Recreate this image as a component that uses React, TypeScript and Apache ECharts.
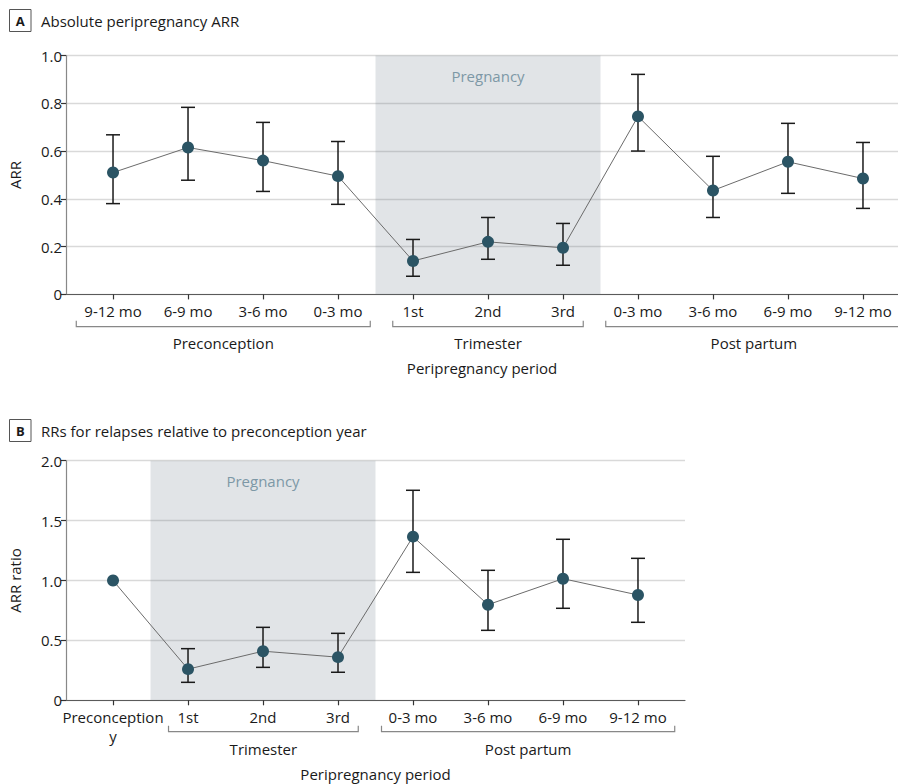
import React, { useEffect, useRef } from "react";
import * as echarts from "echarts";

const FONT = "'Open Sans', 'Noto Sans', sans-serif";
const TXT = "#1a1a1a";

// Panel A data
const catA = ["9-12 mo", "6-9 mo", "3-6 mo", "0-3 mo", "1st", "2nd", "3rd", "0-3 mo", "3-6 mo", "6-9 mo", "9-12 mo"];
const arrA = [0.51, 0.615, 0.56, 0.495, 0.14, 0.22, 0.195, 0.745, 0.435, 0.555, 0.485];
const loA = [0.38, 0.478, 0.431, 0.377, 0.076, 0.147, 0.122, 0.6, 0.322, 0.423, 0.36];
const hiA = [0.668, 0.783, 0.72, 0.64, 0.23, 0.322, 0.297, 0.921, 0.578, 0.716, 0.636];
const groupsA = [
  { name: "Preconception", from: -0.49, to: 3.43 },
  { name: "Trimester", from: 3.73, to: 6.27 },
  { name: "Post partum", from: 6.57, to: 10.52 },
];
const shadeA = [3.5, 6.5];

// Panel B data
const catB = ["Preconception\ny", "1st", "2nd", "3rd", "0-3 mo", "3-6 mo", "6-9 mo", "9-12 mo"];
const rrB = [1.0, 0.26, 0.41, 0.36, 1.366, 0.798, 1.015, 0.879];
const loB: (number | null)[] = [null, 0.15, 0.275, 0.234, 1.068, 0.584, 0.768, 0.651];
const hiB: (number | null)[] = [null, 0.431, 0.609, 0.559, 1.753, 1.085, 1.344, 1.185];
const groupsB = [
  { name: "Trimester", from: 0.74, to: 3.27 },
  { name: "Post partum", from: 3.58, to: 7.49 },
];
const shadeB = [0.5, 3.5];

const idx = (arr: any[]) => arr.map((_, i) => i);

function errData(lo: (number | null)[], hi: (number | null)[]) {
  const out: number[][] = [];
  lo.forEach((l, i) => {
    const h = hi[i];
    if (l != null && h != null) out.push([i, l, h]);
  });
  return out;
}

const renderErr = (params: any, api: any) => {
  const x = api.value(0);
  const top = api.coord([x, api.value(2)]);
  const bot = api.coord([x, api.value(1)]);
  const w = 7;
  const style = { stroke: "#1a1a1a", lineWidth: 1.5 };
  return {
    type: "group",
    children: [
      { type: "line", shape: { x1: top[0], y1: top[1], x2: bot[0], y2: bot[1] }, style },
      { type: "line", shape: { x1: top[0] - w, y1: top[1], x2: top[0] + w, y2: top[1] }, style },
      { type: "line", shape: { x1: bot[0] - w, y1: bot[1], x2: bot[0] + w, y2: bot[1] }, style },
    ],
  };
};

function xAxisFor(gridIndex: number, cats: string[], max: number) {
  return {
    type: "value",
    gridIndex,
    min: -0.627,
    max,
    name: "Peripregnancy period",
    nameLocation: "middle",
    nameGap: 66,
    nameTextStyle: { fontFamily: FONT, fontSize: 15, color: TXT },
    axisLine: { show: true, onZero: false, lineStyle: { color: "#5a5a5a", width: 1.2 } },
    axisTick: { show: true, customValues: idx(cats), length: 5, lineStyle: { color: "#333", width: 1.2 } },
    axisLabel: {
      show: true,
      customValues: idx(cats),
      formatter: (v: number) => cats[Math.round(v)] ?? "",
      fontFamily: FONT,
      fontSize: 15,
      color: TXT,
      lineHeight: 19,
      margin: 7,
      verticalAlign: "top",
    },
    splitLine: { show: false },
  };
}

function yAxisFor(gridIndex: number, name: string, max: number, interval: number) {
  return {
    type: "value",
    gridIndex,
    min: 0,
    max,
    interval,
    name,
    nameLocation: "middle",
    nameGap: 44,
    nameTextStyle: { fontFamily: FONT, fontSize: 15, color: TXT },
    axisLine: { show: true, onZero: false, lineStyle: { color: "#888", width: 1.2 } },
    axisTick: { show: true, length: 5, lineStyle: { color: "#333", width: 1.2 } },
    axisLabel: {
      fontFamily: FONT,
      fontSize: 15,
      color: TXT,
      margin: 4,
      formatter: (v: number) => (v === 0 ? "0" : v.toFixed(1)),
    },
    splitLine: { show: true, lineStyle: { color: "#d9d9d9", width: 1.3 } },
  };
}

function lineSeries(axisIdx: number, vals: number[], shade: number[]) {
  return {
    type: "line",
    xAxisIndex: axisIdx,
    yAxisIndex: axisIdx,
    data: vals.map((v, i) => [i, v]),
    symbol: "circle",
    symbolSize: 12,
    itemStyle: { color: "#2b5464" },
    lineStyle: { color: "#6b6b6b", width: 1 },
    z: 4,
    markArea: {
      silent: true,
      itemStyle: { color: "rgba(105,120,135,0.2)" },
      label: {
        show: true,
        position: "insideTop",
        distance: 13,
        color: "#7d98a6",
        fontFamily: FONT,
        fontSize: 15,
      },
      data: [[{ name: "Pregnancy", xAxis: shade[0] }, { xAxis: shade[1] }]],
    },
  };
}

function errSeries(axisIdx: number, lo: (number | null)[], hi: (number | null)[]) {
  return {
    type: "custom",
    xAxisIndex: axisIdx,
    yAxisIndex: axisIdx,
    renderItem: renderErr,
    encode: { x: 0, y: [1, 2] },
    data: errData(lo, hi),
    z: 3,
  };
}

export default function App() {
  const ref = useRef<HTMLDivElement>(null);
  useEffect(() => {
    if (!ref.current) return;
    const chart = echarts.init(ref.current, undefined, { renderer: "svg" });
    const option: any = {
      animation: false,
      backgroundColor: "#fff",
      grid: [
        { left: 66, top: 55.5, width: 832, height: 238.9, containLabel: false, outerBoundsMode: "none" },
        { left: 66, top: 460.7, width: 619, height: 239.6, containLabel: false, outerBoundsMode: "none" },
      ],
      xAxis: [xAxisFor(0, catA, 10.467), xAxisFor(1, catB, 7.627)],
      yAxis: [yAxisFor(0, "ARR", 1, 0.2), yAxisFor(1, "ARR ratio", 2, 0.5)],
      series: [
        errSeries(0, loA, hiA),
        lineSeries(0, arrA, shadeA),
        errSeries(1, loB, hiB),
        lineSeries(1, rrB, shadeB),
      ],
    };
    chart.setOption(option);

    const graphics: any[] = [];
    const addTitle = (letter: string, text: string, boxTop: number) => {
      graphics.push({
        type: "rect",
        shape: { x: 9.5, y: boxTop, width: 21.5, height: 22 },
        style: { fill: "#fff", stroke: "#555", lineWidth: 1 },
      });
      graphics.push({
        type: "text",
        x: 20.25,
        y: boxTop + 11.5,
        style: { text: letter, fontFamily: FONT, fontWeight: "bold", fontSize: 13, fill: TXT, align: "center", verticalAlign: "middle" },
      });
      graphics.push({
        type: "text",
        x: 41,
        y: boxTop + 11,
        style: { text, fontFamily: FONT, fontSize: 15, fill: TXT, align: "left", verticalAlign: "middle" },
      });
    };
    addTitle("A", "Absolute peripregnancy ARR", 9.5);
    addTitle("B", "RRs for relapses relative to preconception year", 419.5);

    const addGroups = (axisIdx: number, groups: { name: string; from: number; to: number }[], dy: number, ly: number) => {
      const y0 = chart.convertToPixel({ yAxisIndex: axisIdx } as any, 0) as number;
      const by = y0 + dy;
      groups.forEach((g) => {
        const x1 = chart.convertToPixel({ xAxisIndex: axisIdx } as any, g.from) as number;
        const x2 = chart.convertToPixel({ xAxisIndex: axisIdx } as any, g.to) as number;
        graphics.push({
          type: "polyline",
          shape: { points: [[x1, by - 6], [x1, by], [x2, by], [x2, by - 6]] },
          style: { stroke: "#888", lineWidth: 1.2, fill: null },
        });
        graphics.push({
          type: "text",
          x: (x1 + x2) / 2,
          y: y0 + ly,
          style: { text: g.name, fontFamily: FONT, fontSize: 15, fill: TXT, align: "center", verticalAlign: "middle" },
        });
      });
    };
    addGroups(0, groupsA, 32.3, 49);
    addGroups(1, groupsB, 31.4, 48.7);

    chart.setOption({ graphic: graphics });
    return () => chart.dispose();
  }, []);
  return <div ref={ref} style={{ position: "fixed", left: 0, top: 0, width: 898, height: 784 }} />;
}
